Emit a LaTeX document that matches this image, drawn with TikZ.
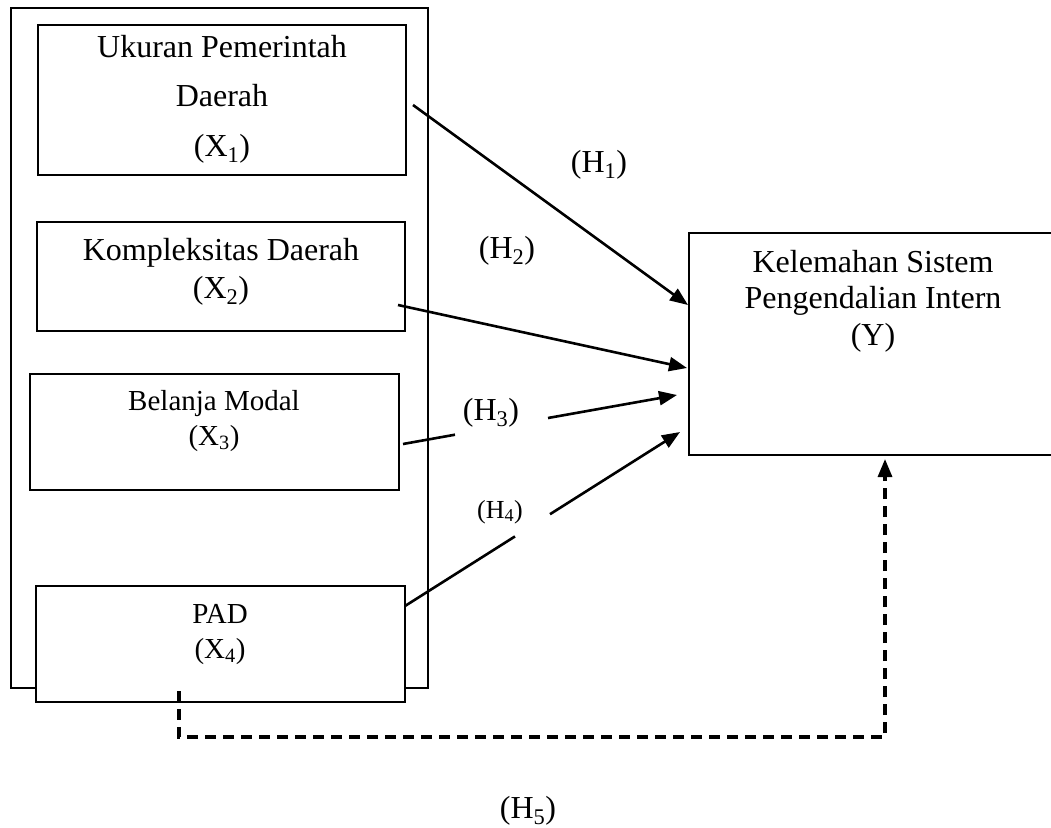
\documentclass[tikz,border=0pt]{standalone}
\usepackage{fontspec}
\setmainfont{Liberation Serif}
\usetikzlibrary{arrows.meta}
\tikzset{
 boxst/.style={draw, line width=2pt, inner sep=0pt, fill=white, rectangle},
 lbl/.style={anchor=base, inner sep=0pt, font=\fontsize{32}{38}\selectfont},
 lblsm/.style={anchor=base, inner sep=0pt, font=\fontsize{29}{34}\selectfont},
 lbltiny/.style={anchor=base, inner sep=0pt, font=\fontsize{26}{30}\selectfont},
 arr/.style={line width=2.6pt, -{Triangle[length=18pt,width=14pt]}},
 seg/.style={line width=2.6pt},
 dsh/.style={line width=3.2pt, dash pattern=on 11pt off 7pt, -{Triangle[length=18pt,width=14pt]}},
}
\begin{document}
\begin{tikzpicture}[x=1pt,y=-1pt]
\useasboundingbox (0,0) rectangle (1051,827);
% outer frame
\node[boxst, minimum width=417pt, minimum height=680pt] (outer) at (219.5,348) {};
% variable boxes
\node[boxst, minimum width=368pt, minimum height=150pt] (b1) at (222,100) {};
\node[boxst, minimum width=368pt, minimum height=109pt] (b2) at (221,276.5) {};
\node[boxst, minimum width=369pt, minimum height=116pt] (b3) at (214.5,432) {};
\node[boxst, minimum width=369pt, minimum height=116pt] (b4) at (220.5,644) {};
\node[boxst, minimum width=364pt, minimum height=222pt] (y) at (871,344) {};
% texts
\node[lbl] (t1a) at (222,57) {Ukuran Pemerintah};
\node[lbl] (t1b) at (222,106) {Daerah};
\node[lbl] (t1c) at (222,156) {(X\textsubscript{1})};
\node[lbl] (t2a) at (221,260) {Kompleksitas Daerah};
\node[lbl] (t2b) at (221,298) {(X\textsubscript{2})};
\node[lblsm] (t3a) at (214,410) {Belanja Modal};
\node[lblsm] (t3b) at (214,445) {(X\textsubscript{3})};
\node[lblsm] (t4a) at (220,623) {PAD};
\node[lblsm] (t4b) at (220,658) {(X\textsubscript{4})};
\node[lbl] (tya) at (873,272) {Kelemahan Sistem};
\node[lbl] (tyb) at (873,308) {Pengendalian Intern};
\node[lbl] (tyc) at (873,345) {(Y)};
% hypothesis labels
\node[lbl] (h1) at (599,172) {(H\textsubscript{1})};
\node[lbl] (h2) at (507,258) {(H\textsubscript{2})};
\node[lbl] (h3) at (491,420) {(H\textsubscript{3})};
\node[lbltiny] (h4) at (500,518) {(H\textsubscript{4})};
\node[lbl] (h5) at (528,818) {(H\textsubscript{5})};
% connector end points
\coordinate (s1) at (413,105);
\coordinate (e1) at (688,305);
\coordinate (s2) at (398,305);
\coordinate (e2) at (687,368);
\coordinate (s3) at (403,444);
\coordinate (g3a) at (455,434.7);
\coordinate (g3b) at (548,418);
\coordinate (e3) at (677,395);
\coordinate (s4) at (405,606);
\coordinate (g4a) at (515,536.4);
\coordinate (g4b) at (550,514.2);
\coordinate (e4) at (680,432);
\coordinate (d0) at (179,691);
\coordinate (d1) at (179,737);
\coordinate (d2) at (885,737);
\coordinate (d3) at (885,459);
% connectors
\draw[arr] (s1) -- (e1);
\draw[arr] (s2) -- (e2);
\draw[seg] (s3) -- (g3a);
\draw[arr] (g3b) -- (e3);
\draw[seg] (s4) -- (g4a);
\draw[arr] (g4b) -- (e4);
\draw[dsh] (d0) -- (d1) -- (d2) -- (d3);
\end{tikzpicture}
\end{document}
